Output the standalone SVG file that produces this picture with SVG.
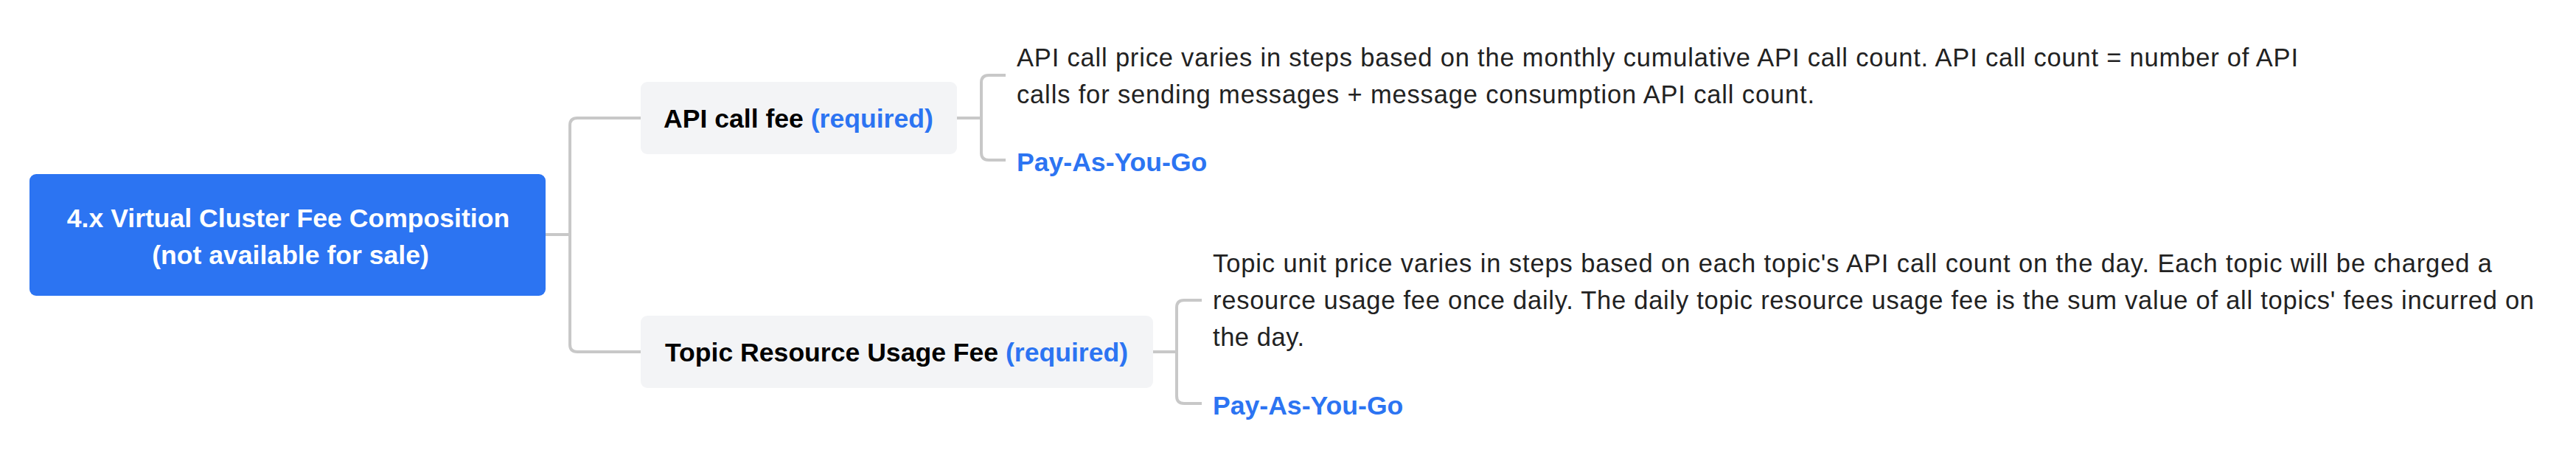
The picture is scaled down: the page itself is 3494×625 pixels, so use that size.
<svg xmlns="http://www.w3.org/2000/svg" width="3494" height="625" viewBox="0 0 3494 625">
<style>
.conn{fill:none;stroke:#c8c8c8;stroke-width:4;stroke-linejoin:round}
.b{font-family:"Liberation Sans",Arial,Helvetica,sans-serif;font-weight:bold;font-size:35.6px}
.r{font-family:"Liberation Sans",Arial,Helvetica,sans-serif;font-size:34.5px;fill:#222222}
.w{fill:#ffffff}
.k{fill:#000000}
.blue{fill:#2c74f2}
.sub{fill:#f3f4f6}
</style>
<rect width="3494" height="625" fill="#ffffff"/>
<g id="connectors">
<path class="conn" d="M740,318 H773"/>
<path class="conn" d="M869,160 H783 Q773,160 773,170 V467 Q773,477 783,477 H869"/>
<path class="conn" d="M1298,160 H1331"/>
<path class="conn" d="M1364,102 H1341 Q1331,102 1331,112 V207 Q1331,217 1341,217 H1364"/>
<path class="conn" d="M1564,477 H1596"/>
<path class="conn" d="M1630,407 H1606 Q1596,407 1596,417 V537 Q1596,547 1606,547 H1630"/>
</g>
<g id="root">
<rect x="40" y="236" width="700" height="165" rx="9" fill="#2c74f2"/>
<text class="b w" x="391" y="308" text-anchor="middle">4.x Virtual Cluster Fee Composition</text>
<text class="b w" x="394" y="358" text-anchor="middle">(not available for sale)</text>
</g>
<g id="api-fee">
<rect class="sub" x="869" y="111" width="429" height="98" rx="9"/>
<text class="b k" x="900" y="173">API call fee <tspan class="blue">(required)</tspan></text>
</g>
<g id="api-desc">
<text class="r" x="1379" y="90" textLength="1738" lengthAdjust="spacing">API call price varies in steps based on the monthly cumulative API call count. API call count = number of API</text>
<text class="r" x="1379" y="139.5" textLength="1082" lengthAdjust="spacing">calls for sending messages + message consumption API call count.</text>
</g>
<g id="api-billing">
<text class="b blue" x="1379" y="232">Pay-As-You-Go</text>
</g>
<g id="topic-fee">
<rect class="sub" x="869" y="428" width="695" height="98" rx="9"/>
<text class="b k" x="902" y="490">Topic Resource Usage Fee <tspan class="blue">(required)</tspan></text>
</g>
<g id="topic-desc">
<text class="r" x="1645" y="368.5" textLength="1735" lengthAdjust="spacing">Topic unit price varies in steps based on each topic's API call count on the day. Each topic will be charged a</text>
<text class="r" x="1645" y="419" textLength="1792" lengthAdjust="spacing">resource usage fee once daily. The daily topic resource usage fee is the sum value of all topics' fees incurred on</text>
<text class="r" x="1645" y="469" textLength="124" lengthAdjust="spacing">the day.</text>
</g>
<g id="topic-billing">
<text class="b blue" x="1645" y="562">Pay-As-You-Go</text>
</g>
</svg>
